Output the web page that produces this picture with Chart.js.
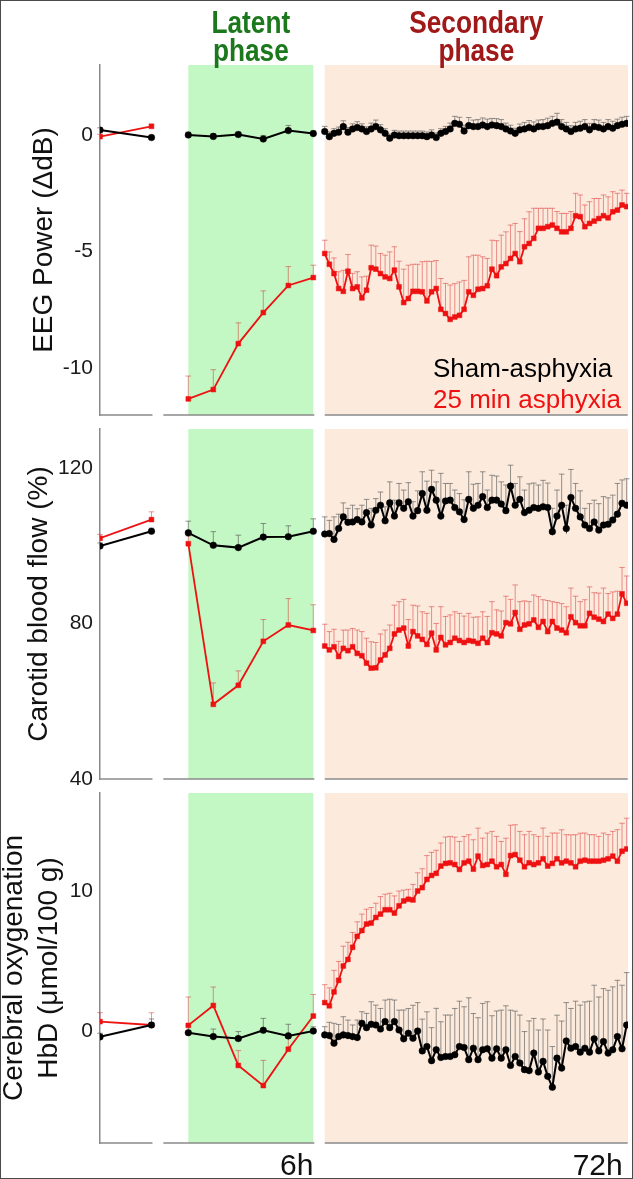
<!DOCTYPE html>
<html>
<head>
<meta charset="utf-8">
<script src="https://cdn.jsdelivr.net/npm/chart.js@4.4.1/dist/chart.umd.min.js"></script>
<style>
  body { margin: 0; background: #fff; }
  #figure { position: relative; width: 633px; height: 1179px; }
  #figure canvas { position: absolute; left: 0; top: 0; }
  #frame { position: absolute; left: 0; top: 0; width: 633px; height: 1179px; box-sizing: border-box; border: 1px solid #4a4a4a; pointer-events: none; }
</style>
</head>
<body>
<div id="figure">
  <canvas id="eegChart" width="633" height="1179"></canvas>
  <canvas id="cbfChart" width="633" height="1179"></canvas>
  <canvas id="hbdChart" width="633" height="1179"></canvas>
  <div id="frame"></div>
</div>
<script>
// time points (hours); baseline is before the asphyxia
const baseHours = [-2, -1];
const latentHours = [1, 2, 3, 4, 5, 6];
const secondaryHours = [7, 8, 9, 10, 11, 12, 13, 14, 15, 16, 17, 18, 19, 20, 21, 22, 23, 24, 25, 26, 27, 28,
  29, 30, 31, 32, 33, 34, 35, 36, 37, 38, 39, 40, 41, 42, 43, 44, 45, 46, 47, 48, 49, 50, 51, 52, 53, 54,
  55, 56, 57, 58, 59, 60, 61, 62, 63, 64, 65, 66, 67, 68, 69, 70, 71, 72];

// EEG power (dB change)
const eegShamBase = [0.21, -0.11];
const eegShamBaseErr = [0.1, 0.1];
const eegAsphBase = [-0.07, 0.37];
const eegAsphBaseErr = [0.1, 0.1];
const eegShamLatent = [0.0, -0.06, 0.02, -0.17, 0.19, 0.06];
const eegShamLatentErr = [0.12, 0.12, 0.1, 0.15, 0.22, 0.12];
const eegAsphLatent = [-11.31, -10.91, -8.94, -7.61, -6.45, -6.11];
const eegAsphLatentErr = [0.98, 0.85, 0.89, 0.93, 0.81, 0.53];
const eegShamSecondary = [0.15, -0.07, 0.07, 0.12, 0.36, 0.12, 0.26, 0.32, 0.26, 0.15,
  0.26, 0.36, 0.22, 0.07, -0.14, 0.0, -0.03, -0.03, -0.03, -0.03,
  -0.03, -0.03, -0.07, 0.0, -0.11, 0.07, 0.15, 0.26, 0.50, 0.46,
  0.17, 0.40, 0.36, 0.36, 0.43, 0.36, 0.43, 0.40, 0.36, 0.26,
  0.17, 0.07, 0.22, 0.26, 0.32, 0.26, 0.36, 0.36, 0.40, 0.50,
  0.55, 0.36, 0.26, 0.15, 0.26, 0.29, 0.36, 0.22, 0.36, 0.32,
  0.26, 0.36, 0.29, 0.40, 0.46, 0.50];
const eegShamSecondaryErr = [0.22, 0.2, 0.2, 0.22, 0.25, 0.2, 0.22, 0.25, 0.22, 0.2,
  0.25, 0.28, 0.22, 0.2, 0.18, 0.2, 0.2, 0.2, 0.2, 0.2,
  0.2, 0.2, 0.2, 0.22, 0.2, 0.2, 0.22, 0.25, 0.3, 0.3,
  0.25, 0.35, 0.28, 0.3, 0.3, 0.32, 0.28, 0.3, 0.3, 0.25,
  0.25, 0.22, 0.25, 0.28, 0.3, 0.3, 0.28, 0.3, 0.32, 0.3,
  0.38, 0.3, 0.28, 0.25, 0.28, 0.3, 0.3, 0.28, 0.3, 0.32,
  0.28, 0.3, 0.3, 0.28, 0.3, 0.3];
const eegAsphSecondary = [-5.08, -5.54, -5.94, -6.58, -6.70, -5.84, -6.58, -6.51, -6.98, -6.65,
  -5.69, -5.75, -5.94, -6.08, -6.15, -5.79, -6.51, -7.18, -7.01, -6.70,
  -6.70, -6.72, -7.11, -6.72, -6.58, -7.47, -7.65, -7.90, -7.80, -7.73,
  -7.47, -6.72, -6.87, -6.61, -6.58, -6.46, -5.75, -6.03, -5.65, -5.51,
  -5.29, -5.08, -5.43, -4.79, -4.65, -4.43, -4.00, -4.00, -3.93, -3.86,
  -4.00, -4.15, -4.15, -4.00, -3.46, -3.50, -3.93, -3.79, -3.69, -3.58,
  -3.46, -3.55, -3.29, -3.22, -3.00, -3.07];
const eegAsphSecondaryErr = [0.57, 0.53, 0.67, 0.72, 0.9, 0.72, 0.65, 0.65, 0.9, 0.6,
  0.97, 0.99, 0.86, 0.93, 1.14, 1.0, 1.1, 1.43, 1.43, 1.16,
  1.16, 1.29, 1.7, 1.3, 1.2, 1.32, 1.29, 1.47, 1.43, 1.43,
  1.24, 1.5, 1.72, 1.46, 1.36, 1.17, 1.24, 1.5, 1.36, 1.36,
  1.43, 1.29, 1.29, 1.2, 1.36, 1.29, 0.86, 0.86, 0.79, 0.72,
  0.72, 0.79, 0.79, 0.72, 0.96, 0.93, 0.93, 0.93, 0.97, 0.86,
  0.89, 0.9, 0.86, 0.72, 0.64, 0.57];

// carotid blood flow (% of baseline)
const cbfShamBase = [99.9, 103.7];
const cbfShamBaseErr = [0.8, 0.8];
const cbfAsphBase = [101.9, 106.7];
const cbfAsphBaseErr = [1.0, 2.0];
const cbfShamLatent = [103.3, 100.1, 99.5, 102.2, 102.3, 103.7];
const cbfShamLatentErr = [3.0, 3.5, 3.2, 3.5, 2.8, 3.2];
const cbfAsphLatent = [100.5, 59.2, 64.1, 75.4, 79.6, 78.2];
const cbfAsphLatentErr = [2.0, 5.5, 3.7, 5.6, 6.8, 6.6];
const cbfShamSecondary = [103.0, 103.1, 101.6, 104.4, 107.4, 106.0, 106.1, 106.7, 106.1, 108.5,
  105.3, 109.1, 110.4, 106.4, 111.0, 107.6, 111.0, 109.6, 111.3, 107.6,
  109.0, 113.4, 109.1, 114.5, 111.7, 107.6, 111.5, 111.7, 109.8, 108.7,
  106.7, 111.9, 109.6, 110.4, 112.6, 109.8, 111.7, 111.7, 110.7, 109.0,
  115.3, 110.4, 111.9, 108.5, 109.1, 109.8, 109.6, 110.0, 109.8, 103.6,
  107.6, 110.4, 104.4, 112.4, 109.6, 107.4, 105.3, 104.4, 106.1, 104.0,
  105.3, 105.5, 106.6, 108.1, 110.9, 110.4];
const cbfShamSecondaryErr = [4.4, 3.4, 5.8, 3.7, 3.6, 3.6, 4.3, 2.8, 4.3, 3.4,
  4.3, 3.0, 3.4, 3.6, 5.4, 4.1, 5.0, 4.7, 4.9, 3.7,
  5.1, 5.6, 7.5, 4.9, 4.7, 11.0, 4.5, 4.3, 4.5, 4.7,
  5.1, 7.1, 6.2, 5.6, 6.4, 4.5, 6.4, 6.2, 5.7, 6.6,
  5.4, 5.6, 5.8, 5.8, 6.8, 6.3, 6.0, 6.8, 6.3, 6.0,
  6.7, 8.0, 6.0, 7.2, 6.4, 6.7, 4.3, 6.4, 5.6, 6.8,
  7.3, 6.8, 6.4, 7.9, 6.0, 6.8];
const cbfAsphSecondary = [74.2, 73.2, 74.0, 71.5, 73.6, 73.0, 74.0, 72.3, 71.7, 69.8,
  68.5, 68.6, 70.6, 71.9, 73.6, 77.3, 78.3, 78.8, 74.2, 77.9,
  76.8, 75.9, 74.6, 77.5, 73.2, 76.4, 74.5, 75.1, 76.2, 75.6,
  75.1, 75.6, 75.4, 74.9, 76.2, 75.1, 77.6, 77.3, 76.8, 80.2,
  79.9, 82.8, 78.5, 79.6, 79.9, 80.9, 79.0, 80.5, 77.9, 80.5,
  78.8, 78.3, 77.6, 81.7, 80.2, 79.4, 79.4, 82.6, 81.6, 81.1,
  80.5, 82.4, 81.3, 82.4, 87.6, 85.2];
const cbfAsphSecondaryErr = [5.6, 4.7, 4.5, 3.9, 4.7, 5.3, 4.7, 6.0, 6.2, 6.4,
  6.8, 6.5, 6.7, 6.4, 6.0, 7.4, 7.3, 7.4, 6.8, 6.8,
  7.7, 7.1, 8.0, 6.8, 6.8, 7.9, 7.3, 7.1, 6.8, 7.0,
  6.8, 7.0, 6.2, 6.8, 6.8, 6.7, 8.0, 6.2, 6.4, 6.8,
  6.3, 7.1, 7.1, 6.2, 5.7, 6.4, 7.9, 5.6, 8.0, 5.1,
  6.6, 6.8, 6.7, 7.4, 6.8, 6.2, 6.7, 6.8, 6.3, 6.7,
  8.6, 5.3, 6.8, 5.9, 6.8, 7.0];

// cerebral oxygenation, HbD (umol/100 g)
const hbdShamBase = [-0.42, 0.43];
const hbdShamBaseErr = [0.26, 0.43];
const hbdAsphBase = [0.67, 0.43];
const hbdAsphBaseErr = [0.64, 0.87];
const hbdShamLatent = [-0.12, -0.4, -0.54, 0.05, -0.35, 0.0];
const hbdShamLatentErr = [0.5, 0.54, 0.5, 0.85, 0.83, 0.3];
const hbdAsphLatent = [0.4, 1.82, -2.46, -3.9, -1.3, 1.07];
const hbdAsphLatentErr = [2.03, 1.32, 1.06, 1.8, 0.78, 1.54];
const hbdShamSecondary = [-0.28, -0.33, -0.87, -0.40, -0.28, -0.33, -0.40, -0.47, 0.55, 0.24,
  0.48, 0.43, 0.14, 0.67, 0.24, 0.67, 0.07, -0.56, -0.16, -0.52,
  0.0, -1.42, -1.11, -2.12, -1.34, -1.89, -1.82, -1.82, -1.7, -1.11,
  -1.18, -2.05, -1.23, -2.05, -1.34, -1.27, -1.94, -1.27, -1.94, -1.34,
  -2.46, -1.82, -2.29, -2.76, -2.83, -1.58, -2.93, -2.17, -3.24, -4.02,
  -1.94, -2.65, -0.71, -1.23, -1.11, -1.51, -1.23, -1.51, -0.56, -1.42,
  -0.75, -1.58, -1.34, -0.40, -1.27, 0.43];
const hbdShamSecondaryErr = [0.59, 0.95, 1.42, 0.87, 1.3, 1.11, 0.83, 1.25, 0.83, 1.02,
  1.61, 1.42, 1.47, 1.54, 2.03, 1.54, 1.42, 2.06, 1.77, 2.36,
  2.03, 2.27, 2.48, 2.36, 2.96, 2.55, 2.96, 2.96, 3.31, 3.24,
  2.91, 4.42, 2.48, 3.0, 3.31, 3.36, 3.03, 2.7, 3.43, 3.14,
  3.95, 3.24, 3.43, 2.72, 3.55, 2.48, 3.0, 3.03, 3.31, 2.91,
  3.07, 3.36, 2.74, 2.84, 3.24, 3.36, 3.31, 3.64, 3.83, 3.85,
  3.78, 4.49, 4.49, 4.02, 4.54, 3.74];
const hbdAsphSecondary = [2.03, 1.80, 2.79, 3.62, 4.64, 5.11, 5.98, 6.76, 7.17, 7.64,
  7.71, 8.11, 8.35, 8.66, 8.66, 8.42, 8.94, 9.29, 9.41, 9.36,
  10.0, 10.24, 10.83, 11.11, 11.26, 11.78, 11.97, 12.01, 11.89, 11.54,
  12.01, 12.13, 11.56, 12.49, 11.82, 11.89, 12.13, 11.73, 11.89, 11.19,
  12.53, 12.6, 12.2, 11.73, 12.01, 11.89, 12.01, 12.3, 11.78, 11.97,
  12.3, 12.01, 12.13, 12.01, 11.73, 12.13, 12.2, 12.13, 12.13, 12.13,
  12.2, 12.3, 12.49, 12.13, 12.84, 13.0];
const hbdAsphSecondaryErr = [1.28, 1.28, 1.54, 1.35, 1.42, 1.23, 1.06, 1.04, 1.18, 1.06,
  1.11, 1.02, 1.25, 1.11, 1.18, 1.23, 1.06, 0.78, 0.71, 1.11,
  1.3, 1.35, 1.7, 1.65, 1.65, 1.65, 1.89, 1.89, 1.96, 2.0,
  1.89, 1.89, 2.1, 2.0, 1.96, 2.25, 2.13, 2.17, 1.65, 2.58,
  2.17, 2.13, 2.06, 2.29, 2.25, 2.13, 1.89, 2.2, 2.13, 2.17,
  1.84, 2.36, 1.89, 2.0, 2.29, 2.0, 1.94, 1.89, 1.89, 1.77,
  1.94, 1.73, 1.77, 2.25, 2.0, 2.2];

const FONT = '"Liberation Sans", Arial, sans-serif';

// the time axis is broken in three stretches, each with its own hour spacing
const axisPieces = [
  { from: -2, to: -1, left: 0, right: 0.0975 },
  { from: 0, to: 6, left: 0.1199, right: 0.404 },
  { from: 7, to: 72, left: 0.4256, right: 0.9975 }
];
const phaseBands = [
  { from: 1, to: 6, color: '#c3f7c3' },
  { from: 7, to: 72.28, color: '#fcebdd' }
];

class BrokenTimeScale extends Chart.LinearScale {
  static id = 'brokenTime';
  static defaults = Chart.LinearScale.defaults;
  getPixelForValue(value) {
    let piece = axisPieces[0];
    axisPieces.forEach(p => { if (value >= p.from - 0.5) piece = p; });
    const t = piece.left + (value - piece.from) / (piece.to - piece.from) * (piece.right - piece.left);
    return this.left + t * this.width;
  }
}
Chart.register(BrokenTimeScale);

const phaseShading = {
  id: 'phaseShading',
  beforeDraw(chart) {
    const { ctx, chartArea: a, scales: { x } } = chart;
    ctx.save();
    phaseBands.forEach(b => {
      const x0 = x.getPixelForValue(b.from);
      const x1 = x.getPixelForValue(b.to);
      ctx.fillStyle = b.color;
      ctx.fillRect(x0, a.top, x1 - x0, a.bottom - a.top);
    });
    ctx.restore();
  }
};

const brokenAxis = {
  id: 'brokenAxis',
  beforeDatasetsDraw(chart) {
    const { ctx, chartArea: a, scales: { x } } = chart;
    ctx.save();
    ctx.strokeStyle = '#8a8a8a';
    ctx.lineWidth = 1.5;
    axisPieces.forEach(p => {
      ctx.beginPath();
      ctx.moveTo(x.getPixelForValue(p.from), a.bottom);
      ctx.lineTo(x.getPixelForValue(p.to) + 1, a.bottom);
      ctx.stroke();
    });
    ctx.restore();
  }
};

// one-sided (upward) SEM bars, drawn behind the lines
const errorBars = {
  id: 'errorBars',
  beforeDatasetsDraw(chart) {
    const { ctx, scales: { x, y } } = chart;
    ctx.save();
    ctx.lineWidth = 1;
    chart.data.datasets.forEach(ds => {
      if (!ds.errUp) return;
      ctx.strokeStyle = ds.errColor;
      ds.data.forEach((pt, j) => {
        const px = x.getPixelForValue(pt.x);
        const y0 = y.getPixelForValue(pt.y);
        const y1 = y.getPixelForValue(pt.y + ds.errUp[j]);
        ctx.beginPath();
        ctx.moveTo(px, y0);
        ctx.lineTo(px, y1);
        ctx.moveTo(px - 2.8, y1);
        ctx.lineTo(px + 2.8, y1);
        ctx.stroke();
      });
    });
    ctx.restore();
  }
};

const phaseTitles = {
  id: 'phaseTitles',
  afterDraw(chart) {
    const { ctx, scales: { x } } = chart;
    const titles = [
      { band: phaseBands[0], lines: ['Latent', 'phase'], color: '#1c781c' },
      { band: phaseBands[1], lines: ['Secondary', 'phase'], color: '#a01818' }
    ];
    titles.forEach(t => {
      const cx = (x.getPixelForValue(t.band.from) + x.getPixelForValue(t.band.to)) / 2;
      ctx.save();
      ctx.translate(cx, 0);
      ctx.scale(0.82, 1); // narrow bold face
      ctx.font = 'bold 32px ' + FONT;
      ctx.fillStyle = t.color;
      ctx.textAlign = 'center';
      ctx.fillText(t.lines[0], 0, 33);
      ctx.fillText(t.lines[1], 0, 61);
      ctx.restore();
    });
  }
};

const groupLegend = {
  id: 'groupLegend',
  afterDraw(chart) {
    const { ctx, chartArea: a } = chart;
    ctx.save();
    ctx.font = '26px ' + FONT;
    ctx.textAlign = 'left';
    ctx.fillStyle = '#000';
    ctx.fillText('Sham-asphyxia', a.right - 195, a.bottom - 38);
    ctx.fillStyle = '#ee1111';
    ctx.fillText('25 min asphyxia', a.right - 195, a.bottom - 7);
    ctx.restore();
  }
};

const timeLabels = {
  id: 'timeLabels',
  afterDraw(chart) {
    const { ctx, chartArea: a, scales: { x } } = chart;
    ctx.save();
    ctx.font = '30px ' + FONT;
    ctx.fillStyle = '#111';
    ctx.textAlign = 'right';
    ctx.fillText('6h', x.getPixelForValue(6), a.bottom + 32);
    ctx.fillText('72h', x.getPixelForValue(72) - 4, a.bottom + 32);
    ctx.restore();
  }
};

const shamStyle = {
  borderColor: '#000', backgroundColor: '#000', borderWidth: 2,
  pointStyle: 'circle', pointRadius: 3.3, pointBorderWidth: 0.5,
  errColor: 'rgba(90,90,90,0.65)'
};
const asphStyle = {
  borderColor: '#ee1111', backgroundColor: '#ee1111', borderWidth: 1.8,
  pointStyle: 'rect', pointRadius: 3.4, pointBorderWidth: 0.5,
  errColor: 'rgba(215,45,45,0.5)'
};

function series(hours, values, errs, style) {
  return Object.assign({
    data: hours.map((h, i) => ({ x: h, y: values[i] })),
    errUp: errs,
    tension: 0
  }, style);
}

function makePanel(id, p) {
  return new Chart(document.getElementById(id), {
    type: 'line',
    data: {
      // sham first so it is drawn on top
      datasets: [
        series(baseHours, p.shamBase, p.shamBaseErr, shamStyle),
        series(latentHours, p.shamLatent, p.shamLatentErr, shamStyle),
        series(secondaryHours, p.shamSecondary, p.shamSecondaryErr, shamStyle),
        series(baseHours, p.asphBase, p.asphBaseErr, asphStyle),
        series(latentHours, p.asphLatent, p.asphLatentErr, asphStyle),
        series(secondaryHours, p.asphSecondary, p.asphSecondaryErr, asphStyle)
      ]
    },
    options: {
      responsive: false,
      animation: false,
      layout: { padding: { top: p.top, bottom: 1179 - p.bottom, left: 0, right: 5 } },
      plugins: { legend: { display: false }, tooltip: { enabled: false } },
      scales: {
        x: { type: 'brokenTime', display: false, min: -2, max: 72.3 },
        y: {
          min: p.min,
          max: p.max,
          afterFit: s => { s.width = 100; },
          afterBuildTicks: s => { s.ticks = p.ticks.map(v => ({ value: v })); },
          grid: { display: false, drawTicks: false },
          border: { display: true, color: '#8a8a8a', width: 1.5 },
          ticks: { padding: 7, color: '#1a1a1a', font: { family: FONT, size: 21 } },
          title: {
            display: true,
            text: p.title,
            color: '#111',
            font: { family: FONT, size: 28, lineHeight: 1.25 },
            padding: { top: p.titlePad, bottom: 0 }
          }
        }
      }
    },
    plugins: [phaseShading, brokenAxis, errorBars].concat(p.extra || [])
  });
}

makePanel('eegChart', {
  top: 65, bottom: 415, min: -12, max: 3, ticks: [-10, -5, 0],
  title: 'EEG Power (\u0394dB)', titlePad: 26.5,
  shamBase: eegShamBase, shamBaseErr: eegShamBaseErr,
  shamLatent: eegShamLatent, shamLatentErr: eegShamLatentErr,
  shamSecondary: eegShamSecondary, shamSecondaryErr: eegShamSecondaryErr,
  asphBase: eegAsphBase, asphBaseErr: eegAsphBaseErr,
  asphLatent: eegAsphLatent, asphLatentErr: eegAsphLatentErr,
  asphSecondary: eegAsphSecondary, asphSecondaryErr: eegAsphSecondaryErr,
  extra: [phaseTitles, groupLegend]
});

makePanel('cbfChart', {
  top: 429, bottom: 779, min: 40, max: 130, ticks: [40, 80, 120],
  title: 'Carotid blood flow (%)', titlePad: 21.5,
  shamBase: cbfShamBase, shamBaseErr: cbfShamBaseErr,
  shamLatent: cbfShamLatent, shamLatentErr: cbfShamLatentErr,
  shamSecondary: cbfShamSecondary, shamSecondaryErr: cbfShamSecondaryErr,
  asphBase: cbfAsphBase, asphBaseErr: cbfAsphBaseErr,
  asphLatent: cbfAsphLatent, asphLatentErr: cbfAsphLatentErr,
  asphSecondary: cbfAsphSecondary, asphSecondaryErr: cbfAsphSecondaryErr
});

makePanel('hbdChart', {
  top: 793, bottom: 1143, min: -8, max: 17, ticks: [0, 10],
  title: ['Cerebral oxygenation', 'HbD (\u03bcmol/100 g)'], titlePad: -3,
  shamBase: hbdShamBase, shamBaseErr: hbdShamBaseErr,
  shamLatent: hbdShamLatent, shamLatentErr: hbdShamLatentErr,
  shamSecondary: hbdShamSecondary, shamSecondaryErr: hbdShamSecondaryErr,
  asphBase: hbdAsphBase, asphBaseErr: hbdAsphBaseErr,
  asphLatent: hbdAsphLatent, asphLatentErr: hbdAsphLatentErr,
  asphSecondary: hbdAsphSecondary, asphSecondaryErr: hbdAsphSecondaryErr,
  extra: [timeLabels]
});
</script>
</body>
</html>
